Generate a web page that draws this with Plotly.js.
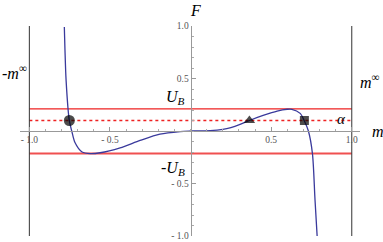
<!DOCTYPE html>
<html><head><meta charset="utf-8">
<script src="https://cdn.plot.ly/plotly-3.0.1.min.js"></script>
<style>html,body{margin:0;padding:0;background:#fff}#c{width:383px;height:242px}</style>
</head><body><div id="c"></div>
<script>
// curve F(m)
const mVals = [-0.783,-0.779,-0.772,-0.752,-0.737,-0.717,-0.673,-0.623,-0.561,-0.437,-0.313,-0.19,-0.065,0,0.121,0.2,0.25,0.307,0.365,0.45,0.537,0.599,0.628,0.68,0.706,0.731,0.756,0.772,0.787];
const fVals = [0.99,0.77,0.48,0.098,0,-0.11,-0.2,-0.215,-0.207,-0.16,-0.09,-0.03,-0.005,0,0.004,0.016,0.033,0.063,0.1,0.148,0.19,0.207,0.207,0.168,0.095,0,-0.216,-0.657,-1.05];
const UB = 0.21, negUB = -0.215, alpha = 0.1;
const lineX = [-1, 1];
const wallY = [-1, 1];
const pointsX = [-0.752, 0.365, 0.706];
const pointsY = [alpha, alpha, alpha];
const pointSymbols = ['circle','triangle-up','square'];
const xTickVals = [-1,-0.5,0.5,1], xTickText = ['- 1.0','- 0.5','0.5','1.0'];
const yTickVals = [-1,-0.5,0.5,1], yTickText = ['- 1.0','- 0.5','0.5','1.0'];

const red = '#ee2222';
const traces = [
  {x: lineX, y: [UB,UB], mode:'lines', line:{color:red,width:1.3}},
  {x: lineX, y: [negUB,negUB], mode:'lines', line:{color:'#f05050',width:2}},
  {x: lineX, y: [alpha,alpha], mode:'lines', line:{color:red,width:1.3,dash:'3px,3px'}},
  {x: [-1,-1], y: wallY, mode:'lines', line:{color:'#333',width:1}},
  {x: [1,1], y: wallY, mode:'lines', line:{color:'#333',width:1}},
  {x: mVals, y: fVals, mode:'lines', line:{color:'#3a3a9c',width:1.3,shape:'spline',smoothing:0.8}},
  {x: pointsX, y: pointsY, mode:'markers', marker:{color:'#000',size:[11,10,9],symbol:pointSymbols,line:{width:0}}}
];
const tickFont = {family:'Liberation Serif, serif', size:9.5, color:'#555'};
const lblFont = {family:'Liberation Serif, serif', size:16, color:'#000'};
const layout = {
  width:383, height:242,
  margin:{l:20,r:23,t:26,b:6},
  paper_bgcolor:'#fff', plot_bgcolor:'#fff',
  showlegend:false,
  xaxis:{range:[-1.058,1.051], anchor:'free', position:0.5, showgrid:false, zeroline:false,
    showline:true, linecolor:'#999', linewidth:1,
    tickmode:'array', tickvals:xTickVals, ticktext:xTickText, ticks:'inside', ticklen:4, tickcolor:'#999',
    minor:{tickmode:'linear', tick0:0, dtick:0.1, ticks:'inside', ticklen:2, tickcolor:'#aaa'},
    tickfont:tickFont},
  yaxis:{range:[-1,1], anchor:'free', position:0.5017, showgrid:false, zeroline:false,
    showline:true, linecolor:'#999', linewidth:1,
    tickmode:'array', tickvals:yTickVals, ticktext:yTickText, ticks:'inside', ticklen:4, tickcolor:'#999',
    minor:{tickmode:'linear', tick0:0, dtick:0.1, ticks:'inside', ticklen:2, tickcolor:'#aaa'},
    tickfont:tickFont},
  annotations:[
    {xref:'paper',yref:'paper',x:0.515,y:1.075,text:'<i>F</i>',showarrow:false,font:lblFont,xanchor:'center',yanchor:'middle'},
    {xref:'paper',yref:'paper',x:-0.058,y:0.78,text:'-<i>m</i><sup>∞</sup>',showarrow:false,font:lblFont,xanchor:'left',yanchor:'middle'},
    {xref:'paper',yref:'paper',x:0.995,y:0.74,text:'<i>m</i><sup>∞</sup>',showarrow:false,font:lblFont,xanchor:'left',yanchor:'middle'},
    {xref:'paper',yref:'paper',x:1.03,y:0.5,text:'<i>m</i>',showarrow:false,font:lblFont,xanchor:'left',yanchor:'middle'},
    {xref:'paper',yref:'paper',x:0.49,y:0.66,text:'<i>U</i><sub><i>B</i></sub>',showarrow:false,font:lblFont,xanchor:'right',yanchor:'middle'},
    {xref:'paper',yref:'paper',x:0.49,y:0.32,text:'-<i>U</i><sub><i>B</i></sub>',showarrow:false,font:lblFont,xanchor:'right',yanchor:'middle'},
    {xref:'paper',yref:'paper',x:0.945,y:0.555,text:'<i>α</i>',showarrow:false,font:{family:'Liberation Serif, serif',size:15,color:'#000'},xanchor:'center',yanchor:'middle'}
  ]
};
Plotly.newPlot('c', traces, layout, {staticPlot:true, displayModeBar:false});
</script></body></html>
